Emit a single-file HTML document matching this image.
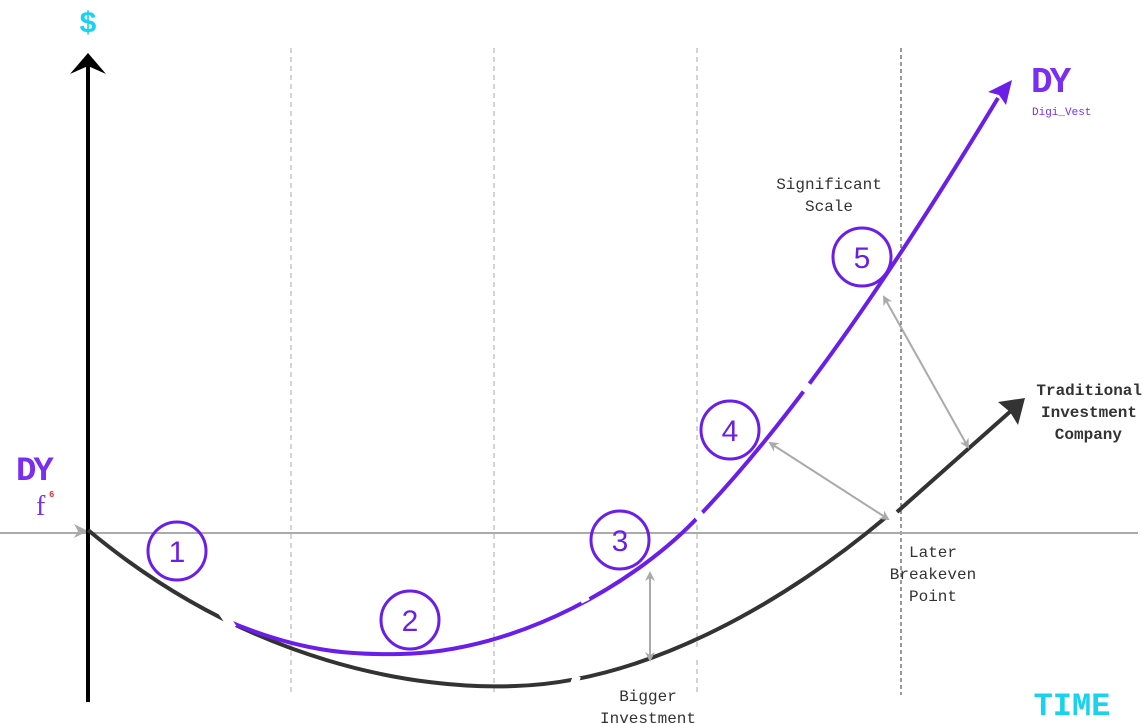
<!DOCTYPE html>
<html><head><style>
body{margin:0;background:#fff;width:1143px;height:724px;overflow:hidden}
svg{display:block}
text{font-family:"Liberation Mono","DejaVu Sans Mono",monospace}
</style></head><body>
<svg width="1143" height="724" viewBox="0 0 1143 724">
<defs>
<marker id="ga" markerWidth="10" markerHeight="10" refX="8" refY="5" orient="auto-start-reverse" markerUnits="userSpaceOnUse"><path d="M0,0 L10,5 L0,10 L3,5z" fill="#aaa"/></marker>
</defs>
<g stroke="#aaa" stroke-width="1" stroke-dasharray="5,4">
<line x1="291" y1="48" x2="291" y2="695"/>
<line x1="494" y1="48" x2="494" y2="695"/>
<line x1="697" y1="48" x2="697" y2="695"/>
</g>
<line x1="901" y1="48" x2="901" y2="695" stroke="#333" stroke-width="1" stroke-dasharray="4,3"/>
<line x1="0" y1="533" x2="1138" y2="533" stroke="#aaa" stroke-width="2"/>
<path d="M74,524 L88,531 L74,538 L78,531z" fill="#aaa"/>
<line x1="88" y1="62" x2="88" y2="702" stroke="#000" stroke-width="4"/>
<path d="M70,74 L88,53 L106,74 L88,66z" fill="#000"/>
<text x="88" y="32" font-size="30" font-weight="bold" fill="#19d3ee" text-anchor="middle">$</text>
<text x="1072" y="715" font-size="32" font-weight="bold" fill="#19d3ee" text-anchor="middle">TIME</text>
<path d="M88,530 C250,665 420,690 515,686 C650,682 790,598 885,518" fill="none" stroke="#333" stroke-width="4"/>
<line x1="897" y1="512" x2="1012" y2="410" stroke="#333" stroke-width="4"/>
<path d="M998,402 L1025,398 L1018,425 L1010,412z" fill="#333"/>
<path d="M225,620 C300,652 350,655 400,654 C520,652 640,580 700,515 C800,410 900,260 998,98" fill="none" stroke="#6a1ee8" stroke-width="4"/>
<path d="M988,92 L1012,80 L1006,105 L999,95z" fill="#6a1ee8"/>
<g stroke="#fff" stroke-width="8">
<line x1="222" y1="612" x2="233" y2="628"/>
<line x1="572" y1="690" x2="577" y2="676"/>
<line x1="697" y1="658" x2="703" y2="643"/>
<line x1="580" y1="600" x2="588" y2="596"/>
<line x1="695" y1="518" x2="702" y2="512"/>
<line x1="804" y1="392" x2="810" y2="384"/>
</g>
<g stroke="#aaa" stroke-width="2" marker-start="url(#ga)" marker-end="url(#ga)">
<line x1="650" y1="573" x2="650" y2="660"/>
<line x1="770" y1="443" x2="888" y2="519"/>
<line x1="884" y1="297" x2="968" y2="447"/>
</g>
<g fill="none" stroke="#6a1ee8" stroke-width="3">
<circle cx="177" cy="551" r="29"/>
<circle cx="410" cy="620" r="29"/>
<circle cx="620" cy="540" r="29"/>
<circle cx="730" cy="430" r="29"/>
<circle cx="862" cy="257" r="29"/>
</g>
<g fill="#6a1ee8" font-size="30" text-anchor="middle">
<text x="177" y="562" style="font-family:'Liberation Sans',sans-serif">1</text>
<text x="410" y="631" style="font-family:'Liberation Sans',sans-serif">2</text>
<text x="620" y="551" style="font-family:'Liberation Sans',sans-serif">3</text>
<text x="730" y="441" style="font-family:'Liberation Sans',sans-serif">4</text>
<text x="862" y="268" style="font-family:'Liberation Sans',sans-serif">5</text>
</g>
<g font-size="16" fill="#333" text-anchor="middle">
<text x="829" y="189">Significant</text>
<text x="829" y="211">Scale</text>
<text x="933" y="557">Later</text>
<text x="933" y="579">Breakeven</text>
<text x="933" y="601">Point</text>
<text x="648" y="701">Bigger</text>
<text x="648" y="723">Investment</text>
</g>
<g font-size="16" fill="#333" font-weight="bold" text-anchor="end">
<text x="1142" y="395">Traditional</text>
<text x="1137" y="417">Investment</text>
<text x="1122" y="439">Company</text>
</g>
<g fill="#7a2ef0" font-weight="bold">
<text x="16" y="480" font-size="34" letter-spacing="-3">DY</text>
<text x="36" y="515" font-size="28" font-weight="normal" style="font-family:'Liberation Serif',serif">f</text>
<text x="49" y="497" font-size="9" fill="#e33">6</text>
<text x="1031" y="92" font-size="36" letter-spacing="-3">DY</text>
<text x="1032" y="115" font-size="11" font-weight="normal">Digi_Vest</text>
</g>
</svg>
</body></html>
